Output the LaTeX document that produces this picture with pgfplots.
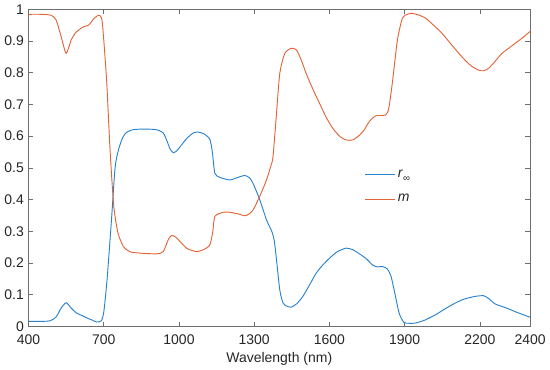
\documentclass[border=0pt]{standalone}
\usepackage{pgfplots}
\pgfplotsset{compat=1.18}
\usepackage{fontspec}
\setmainfont{Liberation Sans}
\definecolor{mblue}{RGB}{40,130,205}
\definecolor{morange}{RGB}{226,100,55}
\definecolor{frame}{RGB}{110,110,110}
\begin{document}
\begin{tikzpicture}
\begin{axis}[
  scale only axis,
  width=377pt, height=238.5pt,
  xmin=400, xmax=2400, ymin=0, ymax=1,
  xtick={400,700,1000,1300,1600,1900,2200,2400},
  ytick={0,0.1,...,1},
  yticklabels={0,0.1,0.2,0.3,0.4,0.5,0.6,0.7,0.8,0.9,1},
  xticklabel style={/pgf/number format/1000 sep={}, yshift=-2.5pt},
  /pgf/number format/assume math mode=true,
  tick label style={font=\fontsize{10.5}{12}\selectfont, text=black!85},
  label style={font=\fontsize{10.5}{12}\selectfont, text=black!85},
  xlabel={Wavelength (nm)},
  xlabel style={yshift=1pt},
  yticklabel style={xshift=0pt},
  axis line style={frame, line width=0.5pt},
  tick style={frame, line width=0.5pt},
  major tick length=3.5pt,
  tick align=inside,
  tickpos=both,
  legend style={draw=none, fill=none, at={(0.67,0.44)}, anchor=west,
    font=\fontsize{10.5}{12}\selectfont, row sep=7pt, inner sep=0pt, text=black!85},
  legend cell align=left,
  legend image code/.code={\draw[mark repeat=2,mark phase=2,#1] plot coordinates {(0cm,0cm) (0.39cm,0cm) (0.78cm,0cm)};},
]
\addplot[color=mblue, line width=0.7pt, smooth, tension=0.4] coordinates {
(400,0.016)(450,0.016)(486,0.018)(510,0.030)(530,0.058)(550,0.075)(570,0.058)(592,0.042)(615,0.034)(635,0.026)(655,0.020)(672,0.014)(690,0.018)(700,0.045)(712,0.137)(722,0.24)(732,0.35)(745,0.50)(758,0.555)(775,0.595)(791,0.612)(815,0.620)(845,0.622)(880,0.622)(911,0.620)(937,0.610)(952,0.585)(964,0.56)(977,0.548)(990,0.553)(1004,0.566)(1030,0.592)(1057,0.610)(1076,0.613)(1100,0.607)(1123,0.590)(1133,0.55)(1143,0.483)(1163,0.470)(1203,0.462)(1235,0.470)(1263,0.476)(1282,0.468)(1296,0.450)(1322,0.400)(1349,0.336)(1370,0.300)(1380,0.270)(1389,0.21)(1402,0.115)(1415,0.074)(1430,0.064)(1448,0.061)(1470,0.072)(1494,0.095)(1520,0.130)(1547,0.168)(1575,0.195)(1600,0.215)(1630,0.235)(1666,0.247)(1690,0.243)(1706,0.236)(1745,0.215)(1772,0.194)(1790,0.188)(1812,0.189)(1830,0.182)(1845,0.160)(1858,0.115)(1878,0.042)(1897,0.013)(1920,0.010)(1944,0.011)(1980,0.020)(2023,0.037)(2060,0.055)(2102,0.074)(2140,0.087)(2182,0.095)(2215,0.097)(2235,0.088)(2261,0.071)(2300,0.060)(2340,0.047)(2370,0.038)(2400,0.029)
};
\addlegendentry{\textit{r}\textsubscript{\raisebox{-0.3ex}{∞}}}
\addplot[color=morange, line width=0.7pt, smooth, tension=0.4] coordinates {
(400,0.984)(450,0.984)(490,0.981)(510,0.966)(530,0.914)(550,0.861)(570,0.903)(590,0.928)(620,0.945)(640,0.950)(660,0.970)(680,0.981)(692,0.970)(700,0.903)(712,0.767)(725,0.557)(740,0.378)(757,0.294)(778,0.252)(795,0.240)(811,0.234)(850,0.231)(911,0.229)(937,0.236)(957,0.273)(970,0.287)(990,0.280)(1030,0.247)(1070,0.236)(1097,0.242)(1123,0.257)(1135,0.30)(1143,0.347)(1176,0.360)(1203,0.360)(1235,0.355)(1263,0.349)(1280,0.355)(1296,0.368)(1322,0.410)(1349,0.462)(1368,0.51)(1375,0.536)(1388,0.662)(1402,0.798)(1422,0.861)(1448,0.877)(1468,0.872)(1485,0.845)(1507,0.798)(1530,0.755)(1560,0.704)(1590,0.655)(1613,0.625)(1640,0.600)(1666,0.588)(1693,0.588)(1720,0.603)(1739,0.620)(1759,0.646)(1785,0.664)(1825,0.667)(1838,0.693)(1854,0.788)(1871,0.903)(1891,0.972)(1910,0.984)(1930,0.987)(1955,0.982)(1983,0.972)(2015,0.950)(2049,0.924)(2085,0.890)(2116,0.861)(2145,0.836)(2168,0.820)(2195,0.808)(2215,0.806)(2235,0.814)(2260,0.835)(2288,0.861)(2315,0.877)(2340,0.892)(2370,0.910)(2400,0.930)
};
\addlegendentry{\textit{m}}
\end{axis}
\end{tikzpicture}
\end{document}
